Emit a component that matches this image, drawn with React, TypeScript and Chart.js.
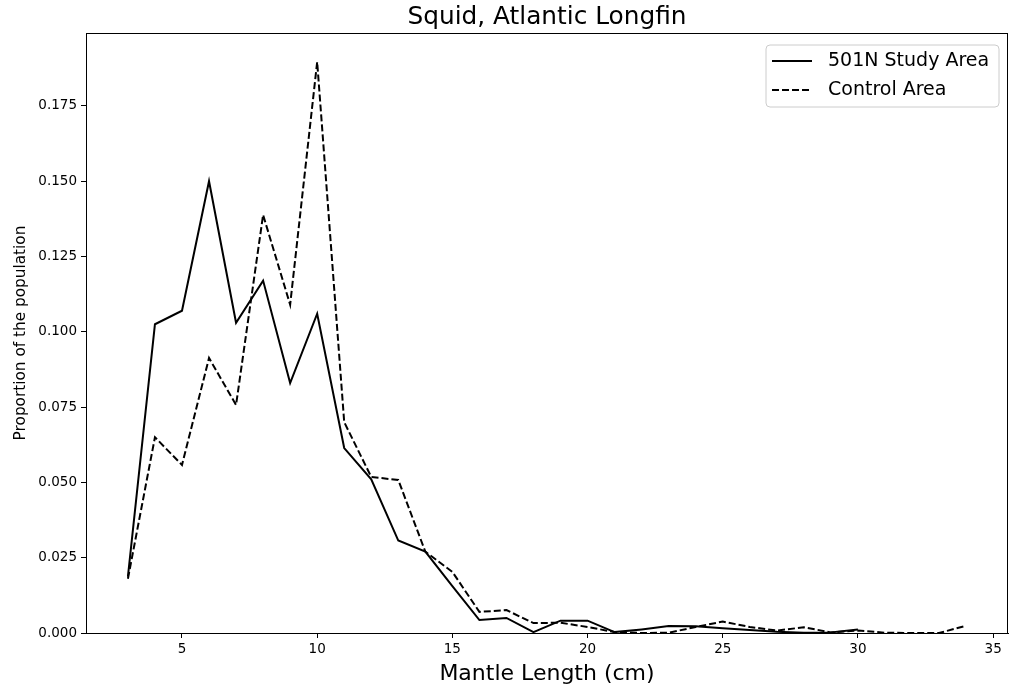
import React, { useEffect, useRef } from "react";
import { Chart, registerables } from "chart.js";

Chart.register(...registerables);

const TITLE = "Squid, Atlantic Longfin";
const X_LABEL = "Mantle Length (cm)";
const Y_LABEL = "Proportion of the population";
const SERIES_NAMES = ["501N Study Area", "Control Area"];

const studyLengths = [3, 4, 5, 6, 7, 8, 9, 10, 11, 12, 13, 14, 15, 16, 17, 18, 19, 20, 21, 22, 23, 24, 25, 26, 27, 28, 29, 30];
const studyValues = [0.0187, 0.1025, 0.107, 0.150, 0.103, 0.117, 0.083, 0.106, 0.0614, 0.051, 0.0307, 0.027, 0.0156, 0.0043, 0.005, 0.0003, 0.0041, 0.0041, 0.0003, 0.0012, 0.0023, 0.0022, 0.0016, 0.001, 0.0004, 0.0001, 0.0002, 0.0012];

const controlLengths = [3, 4, 5, 6, 7, 8, 9, 10, 11, 12, 13, 14, 15, 16, 17, 18, 19, 20, 21, 22, 23, 24, 25, 26, 27, 28, 29, 30, 31, 32, 33, 34];
const controlValues = [0.018, 0.065, 0.0558, 0.0913, 0.0757, 0.1388, 0.109, 0.1896, 0.070, 0.0518, 0.0508, 0.027, 0.0203, 0.007, 0.0076, 0.0033, 0.0034, 0.002, 0.0003, 0, 0.0001, 0.002, 0.0038, 0.002, 0.0008, 0.0019, 0.0002, 0.0008, 0.0001, 0, 0, 0.0024];

const xTicks = [5, 10, 15, 20, 25, 30, 35];
const yTicks = [0, 0.025, 0.05, 0.075, 0.1, 0.125, 0.15, 0.175];

const FONT = "'DejaVu Sans', sans-serif";

const decorPlugin = {
  id: "decor",
  afterDraw(chart: any) {
    const { ctx, chartArea } = chart;
    const { left, right, top, bottom } = chartArea;
    ctx.save();
    // frame
    ctx.strokeStyle = "#000";
    ctx.lineWidth = 1;
    ctx.setLineDash([]);
    ctx.strokeRect(Math.round(left) + 0.5, Math.round(top) + 0.5, Math.round(right - left) - 1, Math.round(bottom - top));
    // title
    ctx.fillStyle = "#000";
    ctx.font = `24.8px ${FONT}`;
    ctx.textAlign = "center";
    ctx.textBaseline = "middle";
    ctx.fillText(TITLE, (left + right) / 2, 18);
    // x label
    ctx.font = `22px ${FONT}`;
    ctx.fillText(X_LABEL, (left + right) / 2, 674);
    // y label
    ctx.save();
    ctx.translate(21, (top + bottom) / 2);
    ctx.rotate(-Math.PI / 2);
    ctx.font = `15.3px ${FONT}`;
    ctx.fillText(Y_LABEL, 0, 0);
    ctx.restore();
    // legend
    const bx = 766, by = 45, bw = 233, bh = 62, r = 4;
    ctx.beginPath();
    ctx.moveTo(bx + r, by);
    ctx.lineTo(bx + bw - r, by);
    ctx.arcTo(bx + bw, by, bx + bw, by + r, r);
    ctx.lineTo(bx + bw, by + bh - r);
    ctx.arcTo(bx + bw, by + bh, bx + bw - r, by + bh, r);
    ctx.lineTo(bx + r, by + bh);
    ctx.arcTo(bx, by + bh, bx, by + bh - r, r);
    ctx.lineTo(bx, by + r);
    ctx.arcTo(bx, by, bx + r, by, r);
    ctx.closePath();
    ctx.fillStyle = "rgba(255,255,255,0.8)";
    ctx.fill();
    ctx.strokeStyle = "#cccccc";
    ctx.lineWidth = 1;
    ctx.stroke();
    const rows = [61, 90];
    const dashes = [[], [7, 3]];
    rows.forEach((y, i) => {
      ctx.beginPath();
      ctx.setLineDash(dashes[i]);
      ctx.strokeStyle = "#000";
      ctx.lineWidth = 2;
      ctx.moveTo(772, y);
      ctx.lineTo(812, y);
      ctx.stroke();
      ctx.setLineDash([]);
      ctx.fillStyle = "#000";
      ctx.font = `19px ${FONT}`;
      ctx.textAlign = "left";
      ctx.textBaseline = "middle";
      ctx.fillText(SERIES_NAMES[i], 828, y);
    });
    ctx.restore();
  },
};

export default function App() {
  const ref = useRef<HTMLCanvasElement | null>(null);
  useEffect(() => {
    document.body.style.margin = "0";
    const canvas = ref.current;
    if (!canvas) return;
    const chart = new Chart(canvas, {
      type: "line",
      data: {
        datasets: [
          {
            label: SERIES_NAMES[0],
            data: studyLengths.map((x, i) => ({ x, y: studyValues[i] })),
            borderColor: "#000",
            borderWidth: 2,
            pointRadius: 0,
            tension: 0,
            fill: false,
          },
          {
            label: SERIES_NAMES[1],
            data: controlLengths.map((x, i) => ({ x, y: controlValues[i] })),
            borderColor: "#000",
            borderWidth: 2,
            borderDash: [7, 3],
            pointRadius: 0,
            tension: 0,
            fill: false,
          },
        ],
      },
      options: {
        responsive: false,
        animation: false,
        layout: { padding: { left: 0, right: 3, top: 33, bottom: 0 } },
        plugins: {
          legend: { display: false },
          title: { display: false },
          tooltip: { enabled: false },
        },
        scales: {
          x: {
            type: "linear",
            min: 1.45,
            max: 35.55,
            afterBuildTicks: (axis: any) => {
              axis.ticks = xTicks.map((v) => ({ value: v }));
            },
            afterFit: (axis: any) => {
              axis.height = 56;
            },
            grid: {
              drawOnChartArea: false,
              drawTicks: true,
              tickLength: 5,
              color: "#000",
            },
            border: { display: true, color: "#000", width: 1 },
            ticks: {
              padding: 3,
              color: "#000",
              font: { family: FONT, size: 13.5 },
              maxRotation: 0,
              autoSkip: false,
              callback: (v: any) => String(v),
            },
          },
          y: {
            type: "linear",
            min: 0,
            max: 0.1992,
            afterBuildTicks: (axis: any) => {
              axis.ticks = yTicks.map((v) => ({ value: v }));
            },
            afterFit: (axis: any) => {
              axis.width = 86;
            },
            grid: {
              drawOnChartArea: false,
              drawTicks: true,
              tickLength: 5,
              color: "#000",
            },
            border: { display: true, color: "#000", width: 1 },
            ticks: {
              padding: 4,
              color: "#000",
              font: { family: FONT, size: 13.5 },
              autoSkip: false,
              callback: (v: any) => Number(v).toFixed(3),
            },
          },
        },
      },
      plugins: [decorPlugin],
    });
    return () => chart.destroy();
  }, []);
  return (
    <div style={{ width: 1011, height: 689, background: "#fff" }}>
      <canvas ref={ref} width={1011} height={689} style={{ display: "block" }} />
    </div>
  );
}
